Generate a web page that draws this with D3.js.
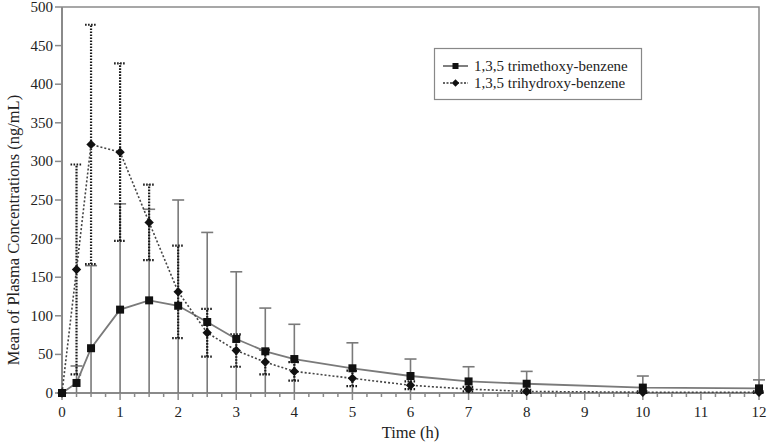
<!DOCTYPE html>
<html>
<head>
<meta charset="utf-8">
<script src="https://cdn.jsdelivr.net/npm/d3@7"></script>
<style>
body{margin:0;background:#fff;}
svg{display:block;font-family:"Liberation Serif","DejaVu Serif",serif;}
</style>
</head>
<body>
<svg id="chart" width="767" height="444"></svg>
<script>
const times = [0, 0.25, 0.5, 1, 1.5, 2, 2.5, 3, 3.5, 4, 5, 6, 7, 8, 10, 12];
const trimethoxyMean = [0, 13, 58, 108, 120, 113, 92, 70, 54, 44, 32, 22, 15, 12, 7, 6];
const trimethoxyUpper = [0, 35, 165, 245, 238, 250, 208, 157, 110, 89, 65, 44, 34, 28, 22, 17];
const trihydroxyMean = [0, 160, 322, 312, 221, 131, 78, 55, 40, 28, 19, 10, 5, 2, 1, 1];
const trihydroxySD = [0, 136, 155, 115, 49, 60, 31, 21, 16, 12, 10, 5, 3, 2, 1, 1];
const xTickLabels = [0,1,2,3,4,5,6,7,8,9,10,11,12];
const yTickLabels = [0,50,100,150,200,250,300,350,400,450,500];
const seriesNames = ["1,3,5 trimethoxy-benzene", "1,3,5 trihydroxy-benzene"];

const svg = d3.select("#chart");
const m = {l:62, r:8, t:7, b:51};
const W = 767, H = 444;
const x = d3.scaleLinear().domain([0,12]).range([m.l, W-m.r]);
const y = d3.scaleLinear().domain([0,500]).range([H-m.b, m.t]);
const axisCol = "#8a8a8a";
const textCol = "#222";

// frame (top and right)
svg.append("path").attr("d", `M${x(0)},${y(500)}H${x(12)}V${y(0)}`)
  .attr("fill","none").attr("stroke",axisCol).attr("stroke-width",1.5);

// x axis
const xMinor = d3.range(0, 12.001, 0.25);
const gx = svg.append("g").attr("transform",`translate(0,${y(0)})`);
gx.append("line").attr("x1",x(0)).attr("x2",x(12)).attr("stroke",axisCol).attr("stroke-width",2);
gx.selectAll(".mn").data(xMinor).join("line")
  .attr("x1",d=>x(d)).attr("x2",d=>x(d)).attr("y1",0)
  .attr("y2",d=>Number.isInteger(d)?7:4)
  .attr("stroke",axisCol).attr("stroke-width",1.5);
gx.selectAll(".lb").data(xTickLabels).join("text")
  .attr("x",d=>x(d)).attr("y",24).attr("text-anchor","middle")
  .attr("font-size",15).attr("fill",textCol).text(d=>d);

// y axis
const gy = svg.append("g");
gy.append("line").attr("x1",x(0)).attr("x2",x(0)).attr("y1",y(0)).attr("y2",y(500))
  .attr("stroke",axisCol).attr("stroke-width",2);
gy.selectAll(".tk").data(yTickLabels).join("line")
  .attr("x1",x(0)-7).attr("x2",x(0)).attr("y1",d=>y(d)).attr("y2",d=>y(d))
  .attr("stroke",axisCol).attr("stroke-width",1.5);
gy.selectAll(".lb").data(yTickLabels).join("text")
  .attr("x",x(0)-9).attr("y",d=>y(d)+5).attr("text-anchor","end")
  .attr("font-size",15).attr("fill",textCol).text(d=>d);

// axis titles
svg.append("text").attr("x",(x(0)+x(12))/2).attr("y",438).attr("text-anchor","middle")
  .attr("font-size",16.5).attr("fill",textCol).text("Time (h)");
svg.append("text").attr("transform",`translate(19,230) rotate(-90)`)
  .attr("text-anchor","middle").attr("font-size",16.5).attr("fill",textCol)
  .text("Mean of Plasma Concentrations (ng/mL)");

const capW = 6;
// trimethoxy error bars (lower part clipped at the axis)
const tmData = times.map((t,i)=>({t, m:trimethoxyMean[i], u:trimethoxyUpper[i]}));
const tmEB = svg.append("g").attr("stroke","#7a7a7a").attr("stroke-width",1.6).attr("fill","none");
tmData.filter(d=>d.t>0).forEach(d=>{
  tmEB.append("line").attr("x1",x(d.t)).attr("x2",x(d.t)).attr("y1",y(0)).attr("y2",y(d.u));
  tmEB.append("line").attr("x1",x(d.t)-capW).attr("x2",x(d.t)+capW).attr("y1",y(d.u)).attr("y2",y(d.u));
});

// trihydroxy error bars dotted
const thData = times.map((t,i)=>({t, m:trihydroxyMean[i], u:trihydroxyMean[i]+trihydroxySD[i], lo:Math.max(0,trihydroxyMean[i]-trihydroxySD[i])}));
const thEB = svg.append("g").attr("stroke","#1a1a1a").attr("stroke-width",2.2).attr("stroke-dasharray","1.6,1.4").attr("fill","none");
thData.filter(d=>d.t>0).forEach(d=>{
  thEB.append("line").attr("x1",x(d.t)).attr("x2",x(d.t)).attr("y1",y(d.lo)).attr("y2",y(d.u));
  thEB.append("line").attr("x1",x(d.t)-capW).attr("x2",x(d.t)+capW).attr("y1",y(d.u)).attr("y2",y(d.u));
  thEB.append("line").attr("x1",x(d.t)-capW).attr("x2",x(d.t)+capW).attr("y1",y(d.lo)).attr("y2",y(d.lo));
});

// lines
const line = d3.line().x(d=>x(d.t)).y(d=>y(d.m));
svg.append("path").datum(tmData).attr("d",line).attr("fill","none")
  .attr("stroke","#7a7a7a").attr("stroke-width",1.8);
svg.append("path").datum(thData).attr("d",line).attr("fill","none")
  .attr("stroke","#444").attr("stroke-width",1.6).attr("stroke-dasharray","2,2");

// markers
const sq = d3.symbol().type(d3.symbolSquare).size(64);
const di = d3.symbol().type(d3.symbolSquare).size(44);
svg.selectAll(".sq").data(tmData).join("path").attr("d",sq)
  .attr("transform",d=>`translate(${x(d.t)},${y(d.m)})`).attr("fill","#111");
svg.selectAll(".di").data(thData).join("path").attr("d",di)
  .attr("transform",d=>`translate(${x(d.t)},${y(d.m)}) rotate(45)`).attr("fill","#111");

// legend
const lg = svg.append("g");
lg.append("rect").attr("x",434.5).attr("y",48.5).attr("width",207).attr("height",51)
  .attr("fill","#fff").attr("stroke","#888").attr("stroke-width",1.2);
[[66, "sq"],[83, "di"]].forEach(([ly,type],i)=>{
  lg.append("line").attr("x1",443).attr("x2",468).attr("y1",ly).attr("y2",ly)
    .attr("stroke", i==0?"#555":"#333").attr("stroke-width",1.5)
    .attr("stroke-dasharray", i==0?null:"2,1.5");
  lg.append("path").attr("d", d3.symbol().type(d3.symbolSquare).size(i==0?36:28)())
    .attr("transform",`translate(455.5,${ly})` + (i==0?"":" rotate(45)")).attr("fill","#111");
  lg.append("text").attr("x",474).attr("y",ly+5).attr("font-size",15).attr("fill",textCol)
    .text(seriesNames[i]);
});
</script>
</body>
</html>
